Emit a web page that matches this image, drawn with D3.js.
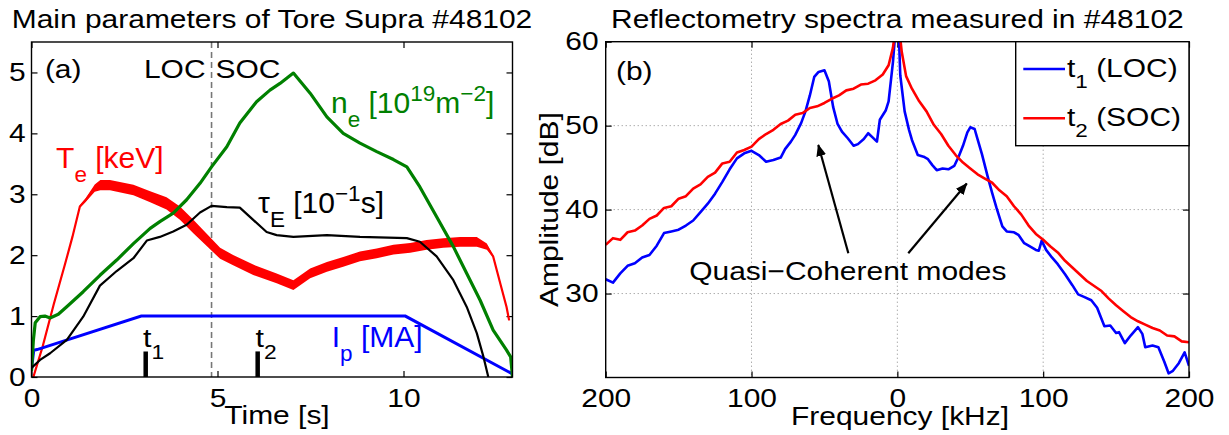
<!DOCTYPE html>
<html><head><meta charset="utf-8">
<script src="https://cdn.jsdelivr.net/npm/d3@7/dist/d3.min.js"></script>
<style>body{margin:0;background:#fff}svg{display:block}text{white-space:pre}</style>
</head><body><svg id="c" width="1229" height="435"></svg>
<script>
// ---------- DATA (left panel: Tore Supra #48102 main parameters) ----------
const ipT = [0, 0.06, 0.15, 2.95, 10.05, 12.93];
const ipV = [0.12, 0.44, 0.45, 1.0, 1.0, 0.05];

const neT = [0, 0.05, 0.1, 0.23, 0.36, 0.5, 0.72, 0.94, 1.39, 1.84, 2.29, 2.74, 3.19, 3.45, 3.81, 4.17, 4.53, 4.84, 5.25, 5.6, 6.05, 6.41, 6.68, 7.04, 7.49, 7.94, 8.38, 8.83, 9.28, 9.73, 10.09, 10.44, 10.89, 11.34, 11.7, 12.06, 12.41, 12.77, 12.88, 12.93];
const neV = [0.1, 0.6, 0.89, 0.99, 1.0, 0.97, 1.03, 1.15, 1.40, 1.67, 1.92, 2.19, 2.44, 2.55, 2.69, 2.91, 3.18, 3.45, 3.78, 4.17, 4.52, 4.71, 4.82, 4.99, 4.66, 4.27, 4.0, 3.84, 3.70, 3.57, 3.45, 3.12, 2.63, 2.14, 1.70, 1.26, 0.77, 0.44, 0.33, 0.0];

const tauT = [0, 0.23, 0.5, 0.95, 1.39, 1.84, 2.29, 2.74, 3.1, 3.45, 3.81, 4.17, 4.53, 4.84, 5.25, 5.6, 5.96, 6.32, 6.59, 7.04, 7.94, 8.83, 10.09, 10.44, 10.89, 11.34, 11.7, 11.97, 12.15, 12.28];
const tauV = [0.15, 0.28, 0.39, 0.61, 0.99, 1.50, 1.74, 1.95, 2.24, 2.30, 2.39, 2.50, 2.70, 2.81, 2.79, 2.78, 2.58, 2.38, 2.33, 2.30, 2.33, 2.30, 2.28, 2.22, 1.98, 1.59, 1.15, 0.72, 0.33, 0.0];

const teT = [0.05, 0.3, 0.6, 0.9, 1.1, 1.3, 1.45, 1.7, 1.85, 2.11, 2.74, 3.19, 3.63, 3.99, 4.35, 4.71, 5.07, 5.42, 5.96, 6.59, 7.04, 7.49, 7.94, 8.38, 8.83, 9.28, 9.73, 10.18, 10.62, 11.07, 11.52, 11.97, 12.24, 12.41, 12.6, 12.77, 12.84];
const teV = [0.0, 0.5, 1.2, 1.85, 2.3, 2.8, 2.9, 3.1, 3.15, 3.15, 3.07, 2.96, 2.85, 2.69, 2.47, 2.25, 2.03, 1.92, 1.76, 1.62, 1.51, 1.70, 1.81, 1.89, 1.98, 2.03, 2.09, 2.12, 2.17, 2.2, 2.22, 2.22, 2.14, 1.98, 1.54, 1.15, 0.93];
// half-width of the fluctuation band of Te (keV)
const teW = [0.02, 0.02, 0.02, 0.02, 0.02, 0.02, 0.03, 0.06, 0.085, 0.085, 0.085, 0.09, 0.1, 0.11, 0.11, 0.1, 0.09, 0.085, 0.085, 0.08, 0.08, 0.08, 0.08, 0.08, 0.08, 0.08, 0.08, 0.08, 0.08, 0.08, 0.08, 0.08, 0.05, 0.02, 0.02, 0.02, 0.02];

const markT = [3.07, 6.08];         // t1, t2
const markH = 0.42;
const transT = 4.84;                // LOC / SOC transition
const leftXTicks = [0, 5, 10];
const leftYTicks = [0, 1, 2, 3, 4, 5];

// ---------- DATA (right panel: reflectometry spectra) ----------
const fSOC = [-200,-195,-190,-185,-180,-175,-170,-165,-160,-155,-150,-145,-140,-135,-130,-125,-120,-115,-110,-105,-100,-95,-90,-85,-80,-75,-70,-65,-60,-55,-50,-45,-40,-35,-30,-25,-20,-15,-10,-6,-3,-1,0,1,3,6,10,15,20,25,30,35,40,45,50,55,60,65,70,75,80,85,90,95,100,105,110,115,120,125,130,135,140,145,150,155,160,165,170,175,180,185,190,195,200];
const aSOC = [35.8,36.6,36.4,37.3,37.5,38.1,38.9,39.3,40.2,40.4,41.3,41.6,42.5,43.0,43.9,44.4,45.5,45.7,46.8,47.1,47.5,48.4,49.0,49.5,50.2,50.6,51.3,51.5,52.1,52.3,52.7,53.2,53.6,54.2,54.4,54.9,55.0,55.4,56.1,57.2,59.3,62,64,62,58.8,55.9,54.4,52.9,51.7,50.1,49.0,47.6,46.5,45.6,44.9,44.2,43.7,43.2,42.3,41.6,40.4,39.4,38.1,37.1,36.4,35.6,34.9,33.9,33.1,32.3,31.5,30.9,30.3,29.4,28.6,27.9,27.2,26.7,26.3,25.9,25.6,25.0,24.9,24.3,24.2];

const fLOC = [-200,-195,-190,-185,-180,-175,-170,-165,-160,-155,-150,-145,-140,-135,-130,-125,-120,-115,-110,-105,-100,-95,-90,-85,-80,-77,-73,-70,-66,-63,-60,-57,-54,-50,-47,-44,-41,-38,-34,-30,-27,-23,-20,-17,-14,-12,-8,-6,-3,-1,0,1,2,5,8,10,14,18,21,24,27,31,35,39,42,45,48,50,53,55,58,62,65,68,72,75,80,83,87,90,95,97,99,102,106,110,115,120,124,128,133,137,142,146,150,152,156,160,165,168,170,175,179,183,186,189,193,197,200];
const aLOC = [31.7,31.3,32.4,33.3,33.6,34.3,34.6,35.7,37.2,37.4,37.6,38.1,38.7,39.7,40.7,41.9,43.3,44.8,46.1,46.7,47.0,46.5,45.7,45.9,46.2,47.2,48.1,48.9,50.3,51.7,53.6,55.8,56.4,56.6,55.3,52.2,50.2,49.3,48.5,47.6,47.8,48.4,49.1,48.6,48.1,50.7,51.8,52.9,57.6,62,64,61,56,51.7,49.5,48.3,46.5,46.3,46.0,45.3,44.7,44.9,44.8,45.2,46.3,47.6,49.2,49.8,49.6,48.4,46.6,43.9,42.0,40.2,38.0,37.4,37.3,37.0,36.0,35.7,35.2,35.1,36.3,35.2,34.3,33.5,32.3,31.0,29.9,29.6,29.2,28.3,26.1,26.2,25.3,25.4,24.1,25.0,26.0,25.2,23.6,23.8,23.6,21.9,20.5,20.8,21.7,23.0,21.4];

const rightXTicks = [-200, -100, 0, 100, 200];
const rightYTicks = [30, 40, 50, 60];
// arrows [fromF, fromA, toF, toA]
const arrows = [[-33.6, 34.8, -54.2, 47.7], [7.5, 34.8, 47.6, 43.1]];

// ---------- RENDER ----------
const FONT = '"Liberation Sans", Arial, Helvetica, sans-serif';
const SX = 1.17;      // horizontal stretch of the axis fonts
const svg = d3.select('#c');

function addText(g, x, y, parts, o) {
  const size = o.size, sx = o.sx || 1;
  const t = g.append('text')
    .attr('transform', `translate(${x},${y})` + (o.rotate ? ` rotate(${o.rotate})` : '') + ` scale(${sx},1)`)
    .attr('font-size', size).attr('font-family', FONT)
    .attr('text-anchor', o.anchor || 'start').attr('fill', o.fill || '#000');
  let cur = 0;
  parts.forEach(p => {
    const [s, mode] = typeof p === 'string' ? [p, 'n'] : p;
    const shift = mode === 'sub' ? 0.45 * size : mode === 'sup' ? -0.42 * size : 0;
    t.append('tspan').attr('dy', shift - cur).attr('font-size', mode === 'n' ? size : size * 0.75).text(s);
    cur = shift;
  });
  return t;
}

function styleAxis(g, labels) {
  g.select('.domain').remove();
  g.selectAll('.tick line').attr('stroke', '#000').attr('stroke-width', 1.2);
  g.selectAll('.tick text').attr('font-size', 25.6).attr('font-family', FONT).attr('fill', '#000');
  if (labels) g.selectAll('.tick text').attr('transform', `scale(${SX},1)`);
}

// ===== LEFT PANEL =====
const L = {x0: 31.5, x1: 512.5, y0: 42, y1: 377};
const xL = d3.scaleLinear().domain([0, 12.93]).range([L.x0, L.x1]);
const yL = d3.scaleLinear().domain([0, 5.5]).range([L.y1, L.y0]);

svg.append('clipPath').attr('id', 'clipL').append('rect')
  .attr('x', L.x0).attr('y', L.y0).attr('width', L.x1 - L.x0).attr('height', L.y1 - L.y0);

const gl = svg.append('g');
gl.append('g').attr('transform', `translate(0,${L.y1})`)
  .call(d3.axisBottom(xL).tickValues(leftXTicks).tickSize(-6).tickPadding(12).tickFormat(d3.format('d')))
  .call(g => styleAxis(g, true));
gl.append('g').attr('transform', `translate(0,${L.y0})`)
  .call(d3.axisTop(xL).tickValues(leftXTicks).tickSize(-6).tickFormat(''))
  .call(g => styleAxis(g, false));
gl.append('g').attr('transform', `translate(${L.x0},0)`)
  .call(d3.axisLeft(yL).tickValues(leftYTicks).tickSize(-6).tickPadding(5).tickFormat(d3.format('d')))
  .call(g => styleAxis(g, true));
gl.append('g').attr('transform', `translate(${L.x1},0)`)
  .call(d3.axisRight(yL).tickValues(leftYTicks).tickSize(-6).tickFormat(''))
  .call(g => styleAxis(g, false));

const plotL = gl.append('g').attr('clip-path', 'url(#clipL)');
plotL.append('line').attr('x1', xL(transT)).attr('x2', xL(transT)).attr('y1', L.y0).attr('y2', L.y1)
  .attr('stroke', '#777').attr('stroke-width', 1.6).attr('stroke-dasharray', '6,4');

const lineGen = (xs, ys, X, Y) => d3.line().x((d, i) => X(xs[i])).y((d, i) => Y(ys[i]))(xs);

const teArea = d3.area().x((d, i) => xL(teT[i])).y0((d, i) => yL(teV[i] - teW[i])).y1((d, i) => yL(teV[i] + teW[i]));
plotL.append('path').attr('d', teArea(teT)).attr('fill', '#ff0000');
plotL.append('path').attr('d', lineGen(teT, teV, xL, yL)).attr('fill', 'none').attr('stroke', '#ff0000').attr('stroke-width', 2.2);
plotL.append('path').attr('d', lineGen(ipT, ipV, xL, yL)).attr('fill', 'none').attr('stroke', '#0000ff').attr('stroke-width', 3);
plotL.append('path').attr('d', lineGen(neT, neV, xL, yL)).attr('fill', 'none').attr('stroke', '#008000').attr('stroke-width', 3.2).attr('stroke-linejoin', 'round');
plotL.append('path').attr('d', lineGen(tauT, tauV, xL, yL)).attr('fill', 'none').attr('stroke', '#000').attr('stroke-width', 2.2).attr('stroke-linejoin', 'round');
markT.forEach(t => plotL.append('line').attr('x1', xL(t)).attr('x2', xL(t)).attr('y1', yL(0)).attr('y2', yL(markH))
  .attr('stroke', '#000').attr('stroke-width', 4.5));

gl.append('rect').attr('x', L.x0).attr('y', L.y0).attr('width', L.x1 - L.x0).attr('height', L.y1 - L.y0)
  .attr('fill', 'none').attr('stroke', '#000').attr('stroke-width', 1.4);

addText(svg, (L.x0 + L.x1) / 2, 28.3, ['Main parameters of Tore Supra #48102'], {size: 25.6, sx: SX, anchor: 'middle'});
addText(svg, 277, 424, ['Time [s]'], {size: 25.6, sx: SX, anchor: 'middle'});
addText(svg, xL(0.36), 78, ['(a)'], {size: 25.6, sx: SX});
addText(svg, xL(transT) - 6, 78, ['LOC'], {size: 25.6, sx: SX, anchor: 'end'});
addText(svg, xL(transT) + 4, 78, ['SOC'], {size: 25.6, sx: SX});
addText(svg, xL(0.66), yL(3.43), ['T', ['e', 'sub'], ' [keV]'], {size: 30, fill: '#ff0000'});
addText(svg, xL(8.05), yL(4.33), ['n', ['e', 'sub'], ' [10', ['19', 'sup'], 'm', ['\u22122', 'sup'], ']'], {size: 30, fill: '#008000'});
addText(svg, xL(6.09), yL(2.69), ['\u03c4', ['E', 'sub'], ' [10', ['\u22121', 'sup'], 's]'], {size: 30, fill: '#000'});
addText(svg, xL(8.07), yL(0.49), ['I', ['p', 'sub'], ' [MA]'], {size: 30, fill: '#0000ff'});
addText(svg, xL(3.0), yL(0.49), ['t', ['1', 'sub']], {size: 26, sx: SX});
addText(svg, xL(6.02), yL(0.49), ['t', ['2', 'sub']], {size: 26, sx: SX});

// ===== RIGHT PANEL =====
const R = {x0: 605.7, x1: 1189, y0: 41.7, y1: 377.5};
const xR = d3.scaleLinear().domain([-200, 200]).range([R.x0, R.x1]);
const yR = d3.scaleLinear().domain([20, 60]).range([R.y1, R.y0]);

svg.append('clipPath').attr('id', 'clipR').append('rect')
  .attr('x', R.x0).attr('y', R.y0).attr('width', R.x1 - R.x0).attr('height', R.y1 - R.y0);

const gr = svg.append('g');
gr.append('g').selectAll('line').data(rightXTicks.slice(1, -1)).join('line')
  .attr('x1', d => xR(d)).attr('x2', d => xR(d)).attr('y1', R.y0).attr('y2', R.y1)
  .attr('stroke', '#888').attr('stroke-width', 1).attr('stroke-dasharray', '1,3');
gr.append('g').selectAll('line').data(rightYTicks.slice(0, -1)).join('line')
  .attr('x1', R.x0).attr('x2', R.x1).attr('y1', d => yR(d)).attr('y2', d => yR(d))
  .attr('stroke', '#888').attr('stroke-width', 1).attr('stroke-dasharray', '1,3');

gr.append('g').attr('transform', `translate(0,${R.y1})`)
  .call(d3.axisBottom(xR).tickValues(rightXTicks).tickSize(-6).tickPadding(11).tickFormat(d => Math.abs(d)))
  .call(g => styleAxis(g, true));
gr.append('g').attr('transform', `translate(0,${R.y0})`)
  .call(d3.axisTop(xR).tickValues(rightXTicks).tickSize(-6).tickFormat(''))
  .call(g => styleAxis(g, false));
gr.append('g').attr('transform', `translate(${R.x0},0)`)
  .call(d3.axisLeft(yR).tickValues(rightYTicks).tickSize(-6).tickPadding(6).tickFormat(d3.format('d')))
  .call(g => styleAxis(g, true));
gr.append('g').attr('transform', `translate(${R.x1},0)`)
  .call(d3.axisRight(yR).tickValues(rightYTicks).tickSize(-6).tickFormat(''))
  .call(g => styleAxis(g, false));

const plotR = gr.append('g').attr('clip-path', 'url(#clipR)');
plotR.append('path').attr('d', lineGen(fLOC, aLOC, xR, yR)).attr('fill', 'none').attr('stroke', '#0000ff').attr('stroke-width', 2.6).attr('stroke-linejoin', 'round');
plotR.append('path').attr('d', lineGen(fSOC, aSOC, xR, yR)).attr('fill', 'none').attr('stroke', '#ff0000').attr('stroke-width', 2.6).attr('stroke-linejoin', 'round');

const defs = svg.append('defs');
defs.append('marker').attr('id', 'ah').attr('viewBox', '0 0 12 10').attr('refX', 11).attr('refY', 5)
  .attr('markerWidth', 12).attr('markerHeight', 10).attr('markerUnits', 'userSpaceOnUse').attr('orient', 'auto')
  .append('path').attr('d', 'M0,0 L12,5 L0,10 z').attr('fill', '#000');
arrows.forEach(a => gr.append('line').attr('x1', xR(a[0])).attr('y1', yR(a[1])).attr('x2', xR(a[2])).attr('y2', yR(a[3]))
  .attr('stroke', '#000').attr('stroke-width', 2.2).attr('marker-end', 'url(#ah)'));

gr.append('rect').attr('x', R.x0).attr('y', R.y0).attr('width', R.x1 - R.x0).attr('height', R.y1 - R.y0)
  .attr('fill', 'none').attr('stroke', '#000').attr('stroke-width', 1.4);

const lg = gr.append('g');
lg.append('rect').attr('x', 1015.7).attr('y', R.y0).attr('width', R.x1 - 1015.7).attr('height', 104)
  .attr('fill', '#fff').attr('stroke', '#000').attr('stroke-width', 1.4);
[['#0000ff', 69, '1', '(LOC)', 76.7], ['#ff0000', 118.3, '2', '(SOC)', 125.5]].forEach(r => {
  lg.append('line').attr('x1', 1023.3).attr('x2', 1065).attr('y1', r[1]).attr('y2', r[1]).attr('stroke', r[0]).attr('stroke-width', 2.6);
  addText(lg, 1067, r[4], ['t', [r[2], 'sub'], ' ' + r[3]], {size: 25.6, sx: SX});
});

addText(svg, (R.x0 + R.x1) / 2, 28.3, ['Reflectometry spectra measured in #48102'], {size: 25.6, sx: SX, anchor: 'middle'});
addText(svg, 900, 425, ['Frequency [kHz]'], {size: 25.6, sx: SX, anchor: 'middle'});
addText(svg, 558, (R.y0 + R.y1) / 2, ['Amplitude [dB]'], {size: 25.6, sx: SX, anchor: 'middle', rotate: -90});
addText(svg, xR(-193), 80, ['(b)'], {size: 25.6, sx: SX});
addText(svg, xR(-34), yR(31.6), ['Quasi\u2212Coherent modes'], {size: 25.6, sx: SX, anchor: 'middle'});
</script></body></html>
